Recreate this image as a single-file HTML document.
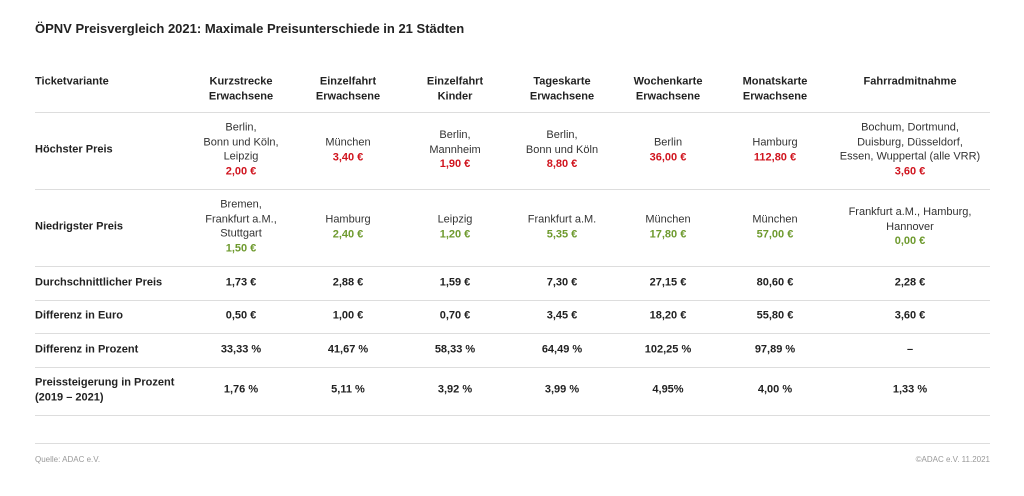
<!DOCTYPE html>
<html><head><meta charset="utf-8">
<style>
body{margin:0;width:1024px;height:496px;background:#fff;font-family:"Liberation Sans","DejaVu Sans",sans-serif;color:#222;overflow:hidden;position:relative}
.t{position:absolute;left:35px;top:21px;font-size:13px;font-weight:bold;color:#222}
.c{position:absolute;width:150px;margin-left:-75px;text-align:center;font-size:11px;line-height:14.7px;color:#333;transform:translateY(-50%)}
.l{position:absolute;left:35px;font-size:11px;font-weight:bold;line-height:14.7px;transform:translateY(-50%);color:#222}
.h{font-weight:bold;color:#222}
.b{font-weight:bold;color:#222}
.r{color:#d0141e;font-weight:bold}
.g{color:#6e9a2e;font-weight:bold}
.ln{position:absolute;left:35px;width:955px;height:1px;background:#ddd}
.f{position:absolute;top:455px;font-size:8px;color:#999}
</style></head><body>
<div class="t">ÖPNV Preisvergleich 2021: Maximale Preisunterschiede in 21 Städten</div>
<div id="tbl"></div>
<div class="f" style="left:35px">Quelle: ADAC e.V.</div>
<div class="f" style="right:34px">©ADAC e.V. 11.2021</div>
<script>
const cols=[241,348,455,562,668,775,910];
const headers=["Kurzstrecke<br>Erwachsene","Einzelfahrt<br>Erwachsene","Einzelfahrt<br>Kinder","Tageskarte<br>Erwachsene","Wochenkarte<br>Erwachsene","Monatskarte<br>Erwachsene","Fahrradmitnahme"];
const highCities=["Berlin,<br>Bonn und Köln,<br>Leipzig","München","Berlin,<br>Mannheim","Berlin,<br>Bonn und Köln","Berlin","Hamburg","Bochum, Dortmund,<br>Duisburg, Düsseldorf,<br>Essen, Wuppertal (alle VRR)"];
const highPrices=["2,00 €","3,40 €","1,90 €","8,80 €","36,00 €","112,80 €","3,60 €"];
const lowCities=["Bremen,<br>Frankfurt a.M.,<br>Stuttgart","Hamburg","Leipzig","Frankfurt a.M.","München","München","Frankfurt a.M., Hamburg,<br>Hannover"];
const lowPrices=["1,50 €","2,40 €","1,20 €","5,35 €","17,80 €","57,00 €","0,00 €"];
const avg=["1,73 €","2,88 €","1,59 €","7,30 €","27,15 €","80,60 €","2,28 €"];
const diffEuro=["0,50 €","1,00 €","0,70 €","3,45 €","18,20 €","55,80 €","3,60 €"];
const diffPct=["33,33 %","41,67 %","58,33 %","64,49 %","102,25 %","97,89 %","–"];
const incr=["1,76 %","5,11 %","3,92 %","3,99 %","4,95%","4,00 %","1,33 %"];
const tbl=document.getElementById('tbl');
function add(cls,x,y,html,name){const d=document.createElement('div');d.className=cls;if(x!==null)d.style.left=x+'px';d.style.top=y+'px';d.innerHTML=html;


tbl.appendChild(d);}
[112,189,266,300,333,367,415,443].forEach((y,i)=>{const d=document.createElement('div');d.className='ln';d.style.top=y+'px';


tbl.appendChild(d);});
add('l',null,82,'Ticketvariante','header-ticketvariante');
add('l',null,150,'Höchster Preis','label-hoechster-preis');
add('l',null,227,'Niedrigster Preis','label-niedrigster-preis');
add('l',null,283,'Durchschnittlicher Preis','label-durchschnitt');
add('l',null,316,'Differenz in Euro','label-differenz-euro');
add('l',null,350,'Differenz in Prozent','label-differenz-prozent');
add('l',null,390,'Preissteigerung in Prozent<br>(2019 – 2021)','label-preissteigerung');
cols.forEach((x,i)=>{
 add('c h',x,headers[i].includes('<br>')?89:82,headers[i],'column-header');
 add('c',x,150,highCities[i]+'<br><span class="r">'+highPrices[i]+'</span>','highest-price-cell');
 add('c',x,227,lowCities[i]+'<br><span class="g">'+lowPrices[i]+'</span>','lowest-price-cell');
 add('c b',x,283,avg[i],'average-price-cell');
 add('c b',x,316,diffEuro[i],'diff-euro-cell');
 add('c b',x,350,diffPct[i],'diff-percent-cell');
 add('c b',x,390,incr[i],'increase-percent-cell');
});
</script>
</body></html>
